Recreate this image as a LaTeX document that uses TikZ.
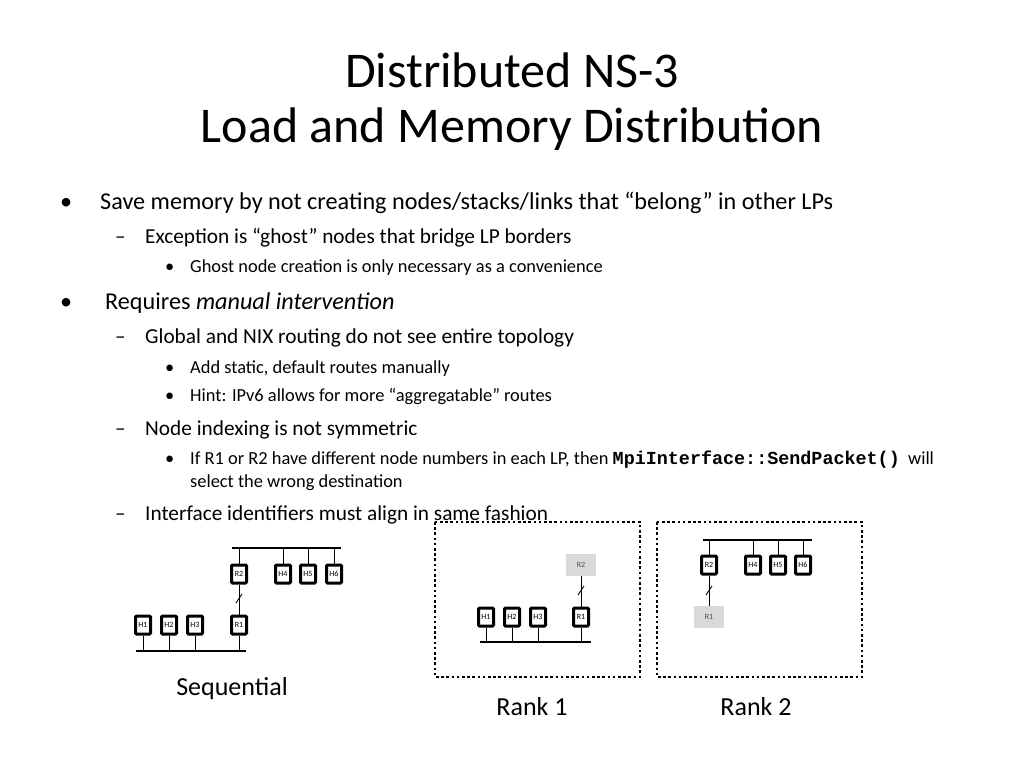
\documentclass[tikz,border=0pt]{standalone}
\usepackage{fontspec}
\setmainfont{Carlito}
\newfontfamily\monof{Liberation Mono}
\begin{document}
\begin{tikzpicture}[x=1pt,y=-1pt,
  t/.style={anchor=base west,inner sep=0pt},
  L1/.style={t,font=\fontsize{24.2}{27}\selectfont},
  L2/.style={t,font=\fontsize{21.3}{24}\selectfont},
  L3/.style={t,font=\fontsize{18.4}{21}\selectfont},
  nd/.style={draw,line width=3pt,rounded corners=1pt,fill=white,minimum width=15pt,minimum height=18pt,inner sep=0pt,font=\fontsize{8}{9}\selectfont},
  gh/.style={fill=black!15,minimum width=30pt,minimum height=22pt,inner sep=0pt,font=\fontsize{8}{9}\selectfont,text=black!70},
  ln/.style={line width=0.9pt},
  bus/.style={line width=1.6pt},
  rk/.style={draw,line width=2.8pt,dash pattern=on 2.6pt off 2.6pt},
  lbl/.style={font=\fontsize{26}{28}\selectfont}]
\useasboundingbox (0,0) rectangle (1024,768);
\node[font=\fontsize{50}{56}\selectfont] (t1) at (512,70) {Distributed NS-3};
\node[font=\fontsize{50}{56}\selectfont] (t2) at (512,129) {Load and Memory Distribution};
% bullets
\node[L1] (b1) at (60,209) {•};
\node[L1] (x1) at (100,209) {Save memory by not creating nodes/stacks/links that “belong” in other LPs};
\node[L2] (d1) at (115,243) {–};
\node[L2] (x2) at (145,243) {Exception is “ghost” nodes that bridge LP borders};
\node[L3] (c1) at (165,272) {•};
\node[L3] (x3) at (190,272) {Ghost node creation is only necessary as a convenience};
\node[L1] (b2) at (60,309) {•};
\node[L1] (x4) at (105,309) {Requires \textit{manual intervention}};
\node[L2] (d2) at (115,343) {–};
\node[L2] (x5) at (145,343) {Global and NIX routing do not see entire topology};
\node[L3] (c2) at (165,373) {•};
\node[L3] (x6) at (190,373) {Add static, default routes manually};
\node[L3] (c3) at (165,401) {•};
\node[L3] (x7) at (190,401) {Hint: IPv6 allows for more “aggregatable” routes};
\node[L2] (d3) at (115,435) {–};
\node[L2] (x8) at (145,435) {Node indexing is not symmetric};
\node[L3] (c4) at (165,464) {•};
\node[L3] (x9) at (190,464) {If R1 or R2 have different node numbers in each LP, then {\monof\bfseries\fontsize{18.4}{21}\selectfont MpiInterface::SendPacket()} \ will};
\node[L3] (x10) at (190,487) {select the wrong destination};
\node[L2] (d4) at (115,520) {–};
\node[L2] (x11) at (145,520) {Interface identifiers must align in same fashion};
% Sequential
\draw[bus] (232,548) -- (341,548);
\draw[bus] (136,651) -- (246,651);
\node[nd] (sR2) at (239,574) {R2};
\node[nd] (sH4) at (283,574) {H4};
\node[nd] (sH5) at (308,574) {H5};
\node[nd] (sH6) at (334,574) {H6};
\node[nd] (sR1) at (239,625) {R1};
\node[nd] (sH1) at (143,625) {H1};
\node[nd] (sH2) at (169,625) {H2};
\node[nd] (sH3) at (195,625) {H3};
\foreach \n in {sR2,sH4,sH5,sH6} \draw[ln] (\n.north) -- (\n.north |- 0,548);
\foreach \n in {sR1,sH1,sH2,sH3} \draw[ln] (\n.south) -- (\n.south |- 0,651);
\draw[ln] (sR2) -- (sR1);
\draw[ln] (236,603) -- (242,594);
\node[lbl] (cs) at (232,689) {Sequential};
% Rank 1
\draw[rk] (435,522) rectangle (640,677);
\draw[bus] (480,642) -- (591,642);
\node[gh] (aR2) at (581,565) {R2};
\node[nd] (aR1) at (581,617) {R1};
\node[nd] (aH1) at (486,617) {H1};
\node[nd] (aH2) at (512,617) {H2};
\node[nd] (aH3) at (538,617) {H3};
\foreach \n in {aR1,aH1,aH2,aH3} \draw[ln] (\n.south) -- (\n.south |- 0,642);
\draw[ln] (aR2) -- (aR1);
\draw[ln] (578,595) -- (584,586);
\node[lbl] (c1l) at (532,707) {Rank 1};
% Rank 2
\draw[rk] (657,522) rectangle (862,677);
\draw[bus] (703,540) -- (812,540);
\node[nd] (bR2) at (709,565) {R2};
\node[nd] (bH4) at (753,565) {H4};
\node[nd] (bH5) at (778,565) {H5};
\node[nd] (bH6) at (803,565) {H6};
\node[gh] (bR1) at (709,617) {R1};
\foreach \n in {bR2,bH4,bH5,bH6} \draw[ln] (\n.north) -- (\n.north |- 0,540);
\draw[ln] (bR2) -- (bR1);
\draw[ln] (706,595) -- (712,586);
\node[lbl] (c2l) at (756,707) {Rank 2};
\end{tikzpicture}
\end{document}
